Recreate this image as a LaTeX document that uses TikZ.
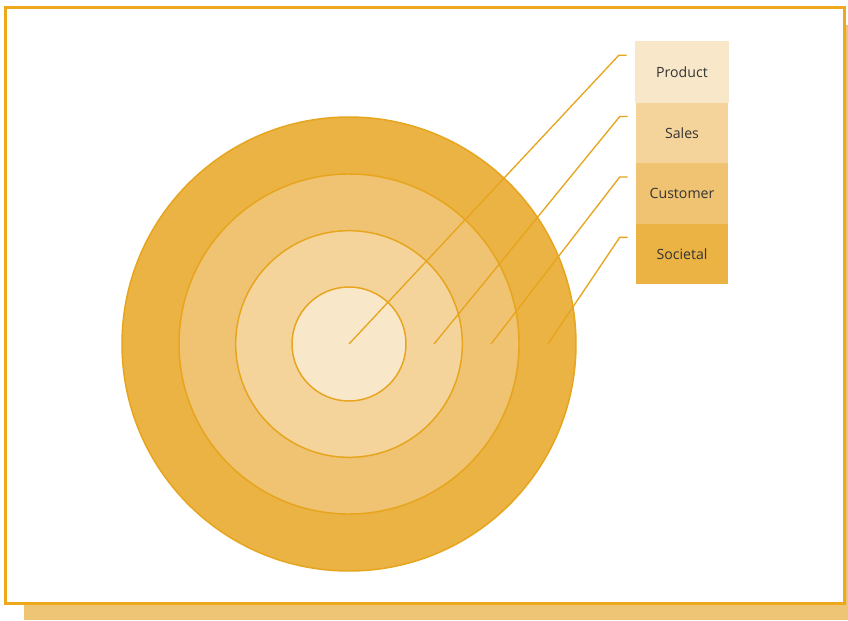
\documentclass[tikz,border=0pt]{standalone}
\usepackage{fontspec}
\setmainfont{Open Sans}
\usepackage{xcolor}
\usepackage{tikz}
\usetikzlibrary{
  positioning,
  calc
}
\definecolor{ringA}{HTML}{F9E7CA}
\definecolor{ringB}{HTML}{F5D49C}
\definecolor{ringC}{HTML}{EFC372}
\definecolor{ringD}{HTML}{EBB244}
\definecolor{edgeline}{HTML}{E6A51C}
\definecolor{framecol}{HTML}{EDA81C}
\definecolor{shadowcol}{HTML}{EEC475}
\definecolor{labeltext}{HTML}{333333}
\tikzset{
  ring/.style={circle,draw=edgeline,line width=1.1pt,inner sep=0pt},
  legendbox/.style={rectangle,minimum width=69pt,minimum height=45.3pt,inner sep=0pt,
    font=\fontsize{10.6}{12}\selectfont,text=labeltext},
  leader/.style={draw=edgeline,line width=1pt},
  outerframe/.style={draw=framecol,line width=1.6pt,fill=white}
}

\begin{document}
\begin{tikzpicture}[x=0.75pt,y=-0.75pt]
    \useasboundingbox (0,0) rectangle (848,620);
    % frame and its shadow
    \fill[shadowcol] (24,25) rectangle (848,620);
    \draw[outerframe] (5.5,7.5) rectangle (844.5,603.5);

    % rings, largest first
    \node[ring,fill=ringD,minimum size=340.5pt] (societal) at (349,344) {};
    \node[ring,fill=ringC,minimum size=255pt] (customer) at (349,344) {};
    \node[ring,fill=ringB,minimum size=170pt] (sales) at (349,344) {};
    \node[ring,fill=ringA,minimum size=85.5pt] (product) at (349,344) {};

    % legend
    \node[legendbox,fill=ringA,minimum width=70.5pt,minimum height=46.5pt] (lprod) at (682,72) {Product};
    \node[legendbox,fill=ringB,below=-0.4pt of lprod] (lsales) {Sales};
    \node[legendbox,fill=ringC,below=-0.4pt of lsales] (lcust) {Customer};
    \node[legendbox,fill=ringD,below=-0.4pt of lcust] (lsoc) {Societal};

    % start points of the leaders
    \coordinate (pprod) at (product.center);
    \coordinate (psales) at ($(product.center)+(85,0)$);
    \coordinate (pcust) at ($(product.center)+(142,0)$);
    \coordinate (psoc) at ($(product.center)+(199,0)$);

    \foreach \p/\l in {pprod/lprod,psales/lsales,pcust/lcust,psoc/lsoc}
      \draw[leader] (\p) -- ([xshift=-12pt,yshift=12.5pt]\l.west) -- ([xshift=-6pt,yshift=12.5pt]\l.west);
\end{tikzpicture}
\end{document}
